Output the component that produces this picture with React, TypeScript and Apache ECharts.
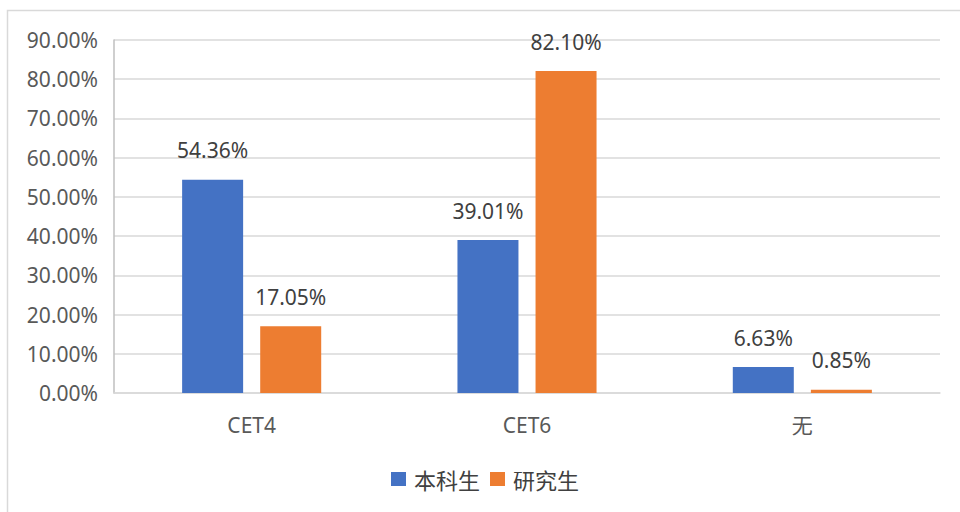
import React, { useEffect, useRef } from "react";
import * as echarts from "echarts";

const categories = ["CET4", "CET6", "无"];
const seriesNames = ["本科生", "研究生"];
const undergrad = [0.5436, 0.3901, 0.0663];
const graduate = [0.1705, 0.821, 0.0085];
const colors = ["#4472C4", "#ED7D31"];

export default function App() {
  const ref = useRef<HTMLDivElement>(null);
  useEffect(() => {
    if (!ref.current) return;
    const chart = echarts.init(ref.current, undefined, { renderer: "svg" });
    const fmt = (v: number) => (v * 100).toFixed(2) + "%";
    const font = "'Noto Sans', 'Noto Sans CJK SC', sans-serif";
    const labelCfg = {
      show: true,
      position: "top",
      distance: 19,
      color: "#404040",
      fontSize: 21,
      fontFamily: font,
      formatter: (p: any) => fmt(p.value),
    };
    chart.setOption({
      animation: false,
      backgroundColor: "#ffffff",
      textStyle: { fontFamily: font },
      graphic: [
        {
          type: "rect",
          shape: { x: 7.5, y: 10.5, width: 1000, height: 600 },
          style: { fill: "none", stroke: "#D9D9D9", lineWidth: 1.5 },
          z: -1,
        },
      ],
      grid: { left: 114, right: 20, top: 40, bottom: 119 },
      legend: {
        left: 386,
        top: 463,
        itemWidth: 15,
        itemHeight: 14,
        itemGap: 10,
        icon: "rect",
        textStyle: {
          color: "#404040",
          fontSize: 22,
          fontFamily: "'Noto Sans CJK SC', sans-serif",
          padding: [0, 0, 0, 3],
        },
        data: seriesNames,
      },
      xAxis: {
        type: "category",
        data: categories,
        axisLine: { lineStyle: { color: "#D9D9D9", width: 1.5 } },
        axisTick: { show: false },
        axisLabel: { color: "#595959", fontSize: 21, margin: 21, fontFamily: font },
      },
      yAxis: {
        type: "value",
        min: 0,
        max: 0.9,
        interval: 0.1,
        axisLine: { show: true, lineStyle: { color: "#BFBFBF", width: 1.5 } },
        axisTick: { show: false },
        splitLine: { lineStyle: { color: "#D9D9D9", width: 1.5 } },
        axisLabel: { color: "#595959", fontSize: 21, margin: 16, formatter: fmt, fontFamily: font },
      },
      series: [
        {
          name: seriesNames[0],
          type: "bar",
          data: undergrad,
          barWidth: 61,
          barGap: "28%",
          itemStyle: { color: colors[0] },
          label: labelCfg,
        },
        {
          name: seriesNames[1],
          type: "bar",
          data: graduate,
          barWidth: 61,
          barGap: "28%",
          itemStyle: { color: colors[1] },
          label: labelCfg,
        },
      ],
    });
    return () => chart.dispose();
  }, []);
  return (
    <div
      ref={ref}
      style={{ position: "fixed", left: 0, top: 0, width: 960, height: 512 }}
    />
  );
}
